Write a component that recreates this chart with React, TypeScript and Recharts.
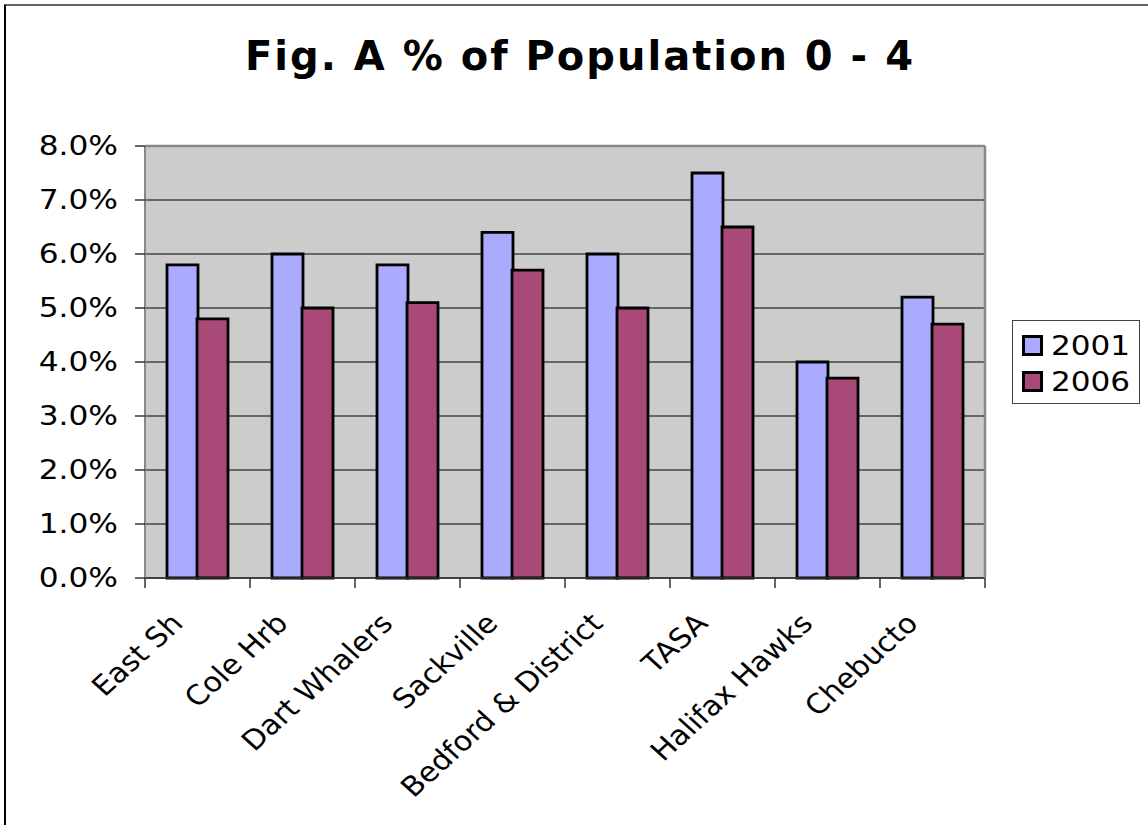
import React from 'react';
import {
    BarChart,
    Bar,
    XAxis,
    YAxis,
    CartesianGrid,
    ReferenceLine,
    Legend
} from 'recharts';

// Data (percent of population aged 0 - 4)
const categories = [
    'East Sh',
    'Cole Hrb',
    'Dart Whalers',
    'Sackville',
    'Bedford & District',
    'TASA',
    'Halifax Hawks',
    'Chebucto'
];
const values2001 = [5.8, 6.0, 5.8, 6.4, 6.0, 7.5, 4.0, 5.2];
const values2006 = [4.8, 5.0, 5.1, 5.7, 5.0, 6.5, 3.7, 4.7];
const yTicks = [0, 1, 2, 3, 4, 5, 6, 7, 8];
const seriesNames = ['2001', '2006'];
const seriesColors = ['#AAAAFF', '#A94977'];

const chartData = categories.map((name, i) => ({
    name,
    y2001: values2001[i],
    y2006: values2006[i]
}));

const FONT = '"DejaVu Sans", Verdana, sans-serif';
const TEXT_STRETCH = 1.2; // the reference glyphs are wider than DejaVu Sans
const LABEL_STRETCH = 1.1; // rotated category labels, a bit steeper than 45deg after stretching
const CHART_W = 1142;
const CHART_H = 819;
// legend box (128px) is reserved on the right by recharts, hence the small right margin
const MARGIN = { top: 140, right: 34, left: 39, bottom: 47 };
const Y_AXIS_W = 100;
const X_AXIS_H = 200;
const PLOT_W = 842;

const CategoryTick = (props: any) => {
    const { x, y, payload, index, visibleTicksCount } = props;
    const half = payload && typeof payload.offset === 'number' && payload.offset > 0
        ? payload.offset
        : PLOT_W / categories.length / 2;
    const ax = x - 13;
    const ay = y + 47;
    const isLast = index === visibleTicksCount - 1;
    return (
        <g>
            <line x1={x - half} y1={y} x2={x - half} y2={y + 10} stroke="#333" strokeWidth={1.5} />
            {isLast && (
                <line x1={x + half} y1={y} x2={x + half} y2={y + 10} stroke="#333" strokeWidth={1.5} />
            )}
            <text
                x={ax}
                y={ay}
                textAnchor="end"
                transform={`translate(${ax} ${ay}) scale(${LABEL_STRETCH} 1) rotate(-45) translate(${-ax} ${-ay})`}
                fontFamily={FONT}
                fontSize={27.5}
                fill="#000"
            >
                {payload.value}
            </text>
        </g>
    );
};

const ValueTick = (props: any) => {
    const { x, y, payload } = props;
    return (
        <text
            x={x}
            y={y}
            textAnchor="end"
            dominantBaseline="central"
            transform={`translate(${x} ${y}) scale(${TEXT_STRETCH} 1) translate(${-x} ${-y})`}
            fontFamily={FONT}
            fontSize={26}
            fill="#000"
        >
            {`${Number(payload.value).toFixed(1)}%`}
        </text>
    );
};

const LegendBox = () => (
    <div
        style={{
            border: '1.5px solid #444',
            background: '#fff',
            width: 128,
            height: 84,
            boxSizing: 'border-box',
            padding: '6px 0 0 9px',
            fontFamily: FONT
        }}
    >
        {seriesNames.map((s, i) => (
            <div key={s} style={{ display: 'flex', alignItems: 'center', height: 36 }}>
                <span
                    style={{
                        display: 'inline-block',
                        width: 21,
                        height: 21,
                        boxSizing: 'border-box',
                        border: '3px solid #000',
                        background: seriesColors[i],
                        marginRight: 8
                    }}
                />
                <span
                    style={{
                        display: 'inline-block',
                        fontSize: 27,
                        color: '#000',
                        transform: 'scaleX(1.15)',
                        transformOrigin: 'left center'
                    }}
                >
                    {s}
                </span>
            </div>
        ))}
    </div>
);

const App: React.FC = () => {
    return (
        <div
            style={{
                position: 'fixed',
                left: 4,
                top: 4,
                width: 1200,
                height: 900,
                borderLeft: '2px solid #000',
                borderTop: '2px solid #666',
                background: '#fff',
                overflow: 'hidden'
            }}
        >
            <div
                style={{
                    position: 'absolute',
                    left: 0,
                    top: 28,
                    width: 1148,
                    textAlign: 'center',
                    fontFamily: FONT,
                    fontWeight: 'bold',
                    fontSize: 40,
                    letterSpacing: 2,
                    lineHeight: '44px',
                    color: '#000'
                }}
            >
                Fig. A % of Population 0 - 4
            </div>
            <div style={{ position: 'absolute', left: 0, top: 0 }}>
                <BarChart
                    width={CHART_W}
                    height={CHART_H}
                    data={chartData}
                    margin={MARGIN}
                    barGap={-1}
                    barSize={31}
                >
                    <CartesianGrid
                        vertical={false}
                        stroke="#000"
                        strokeWidth={1.2}
                        fill="#CCCCCC"
                        fillOpacity={1}
                    />
                    <XAxis
                        dataKey="name"
                        interval={0}
                        height={X_AXIS_H}
                        tickLine={false}
                        tickSize={0}
                        tickMargin={0}
                        axisLine={{ stroke: '#333', strokeWidth: 1.5 }}
                        tick={<CategoryTick />}
                    />
                    <YAxis
                        width={Y_AXIS_W}
                        domain={[0, 8]}
                        ticks={yTicks}
                        interval={0}
                        tickSize={10}
                        tickMargin={17}
                        axisLine={{ stroke: '#888', strokeWidth: 2 }}
                        tickLine={{ stroke: '#000', strokeWidth: 1.2 }}
                        tick={<ValueTick />}
                    />
                    <YAxis
                        yAxisId="frame"
                        orientation="right"
                        width={1}
                        domain={[0, 8]}
                        tick={false}
                        tickLine={false}
                        axisLine={{ stroke: '#888', strokeWidth: 2.5 }}
                    />
                    <ReferenceLine y={8} stroke="#888" strokeWidth={2.5} />
                    <Legend
                        layout="horizontal"
                        align="right"
                        verticalAlign="middle"
                        content={<LegendBox />}
                        wrapperStyle={{ position: 'absolute', left: 1006, top: 314, width: 128, height: 84 }}
                    />
                    <Bar
                        dataKey="y2001"
                        name={seriesNames[0]}
                        fill={seriesColors[0]}
                        stroke="#000"
                        strokeWidth={2.8}
                        isAnimationActive={false}
                    />
                    <Bar
                        dataKey="y2006"
                        name={seriesNames[1]}
                        fill={seriesColors[1]}
                        stroke="#000"
                        strokeWidth={2.8}
                        isAnimationActive={false}
                    />
                </BarChart>
            </div>
        </div>
    );
};

export default App;
